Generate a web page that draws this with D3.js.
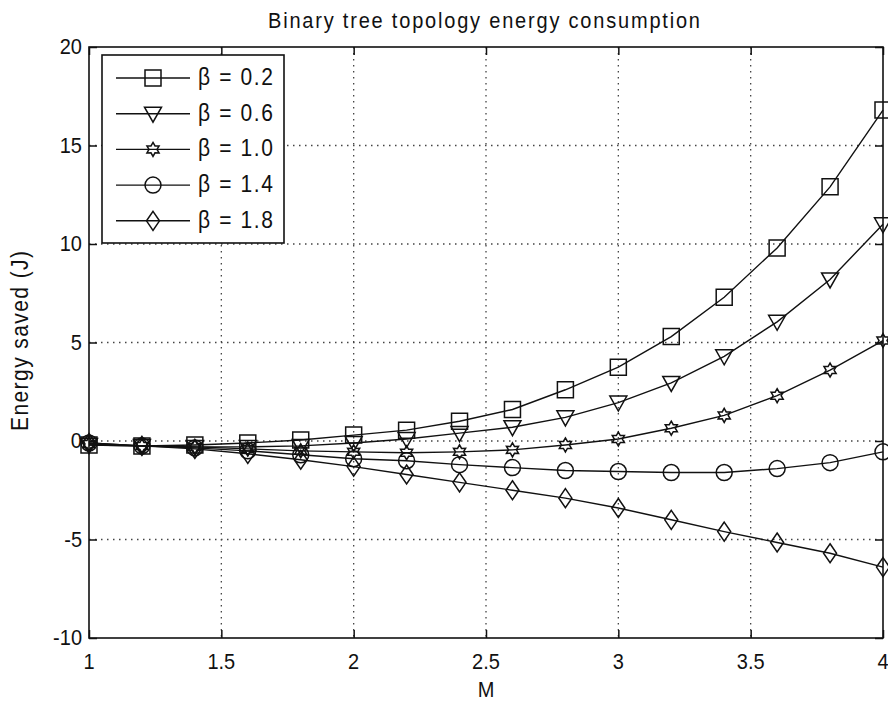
<!DOCTYPE html>
<html><head><meta charset="utf-8">
<script src="https://cdn.jsdelivr.net/npm/d3@7"></script>
<style>body{margin:0;background:#fff}svg{display:block}text{font-family:"Liberation Sans",Arial,sans-serif;fill:#111}</style>
</head><body><svg id="c" width="888" height="703"></svg>
<script>
const mValues = [1,1.2,1.4,1.6,1.8,2.0,2.2,2.4,2.6,2.8,3.0,3.2,3.4,3.6,3.8,4.0];
const beta02 = [-0.2,-0.25,-0.2,-0.1,0.05,0.3,0.55,1.0,1.6,2.6,3.75,5.3,7.3,9.8,12.9,16.8];
const beta06 = [-0.2,-0.25,-0.3,-0.3,-0.25,-0.1,0.1,0.4,0.7,1.2,1.95,2.95,4.3,6.05,8.2,11.0];
const beta10 = [-0.15,-0.25,-0.3,-0.4,-0.5,-0.55,-0.6,-0.55,-0.45,-0.2,0.1,0.65,1.3,2.3,3.6,5.1];
const beta14 = [-0.1,-0.25,-0.35,-0.5,-0.7,-0.9,-1.0,-1.2,-1.35,-1.5,-1.55,-1.6,-1.6,-1.4,-1.1,-0.55];
const beta18 = [-0.1,-0.25,-0.4,-0.65,-0.95,-1.3,-1.7,-2.1,-2.5,-2.9,-3.4,-4.0,-4.6,-5.15,-5.7,-6.4];
const seriesNames = ["β = 0.2","β = 0.6","β = 1.0","β = 1.4","β = 1.8"];
const seriesMarkers = ["square","triangleDown","hexagram","circle","diamond"];
const xTicks = [1,1.5,2,2.5,3,3.5,4];
const yTicks = [-10,-5,0,5,10,15,20];
const titleText = "Binary tree topology energy consumption";
const xLabel = "M";
const yLabel = "Energy saved (J)";

const series = [beta02,beta06,beta10,beta14,beta18].map((v,i)=>({name:seriesNames[i],marker:seriesMarkers[i],values:v}));

const svg = d3.select("#c");
const L=89,R=883,T=47,B=638;
const x = d3.scaleLinear().domain([1,4]).range([L,R]);
const y = d3.scaleLinear().domain([-10,20]).range([B,T]);
const SY = 1.1; // vertical stretch of glyphs

function txt(g, xx, yy, s, size, anchor, rot, len){
  const t = g.append("text").attr("font-size",size).attr("text-anchor",anchor||"middle").text(s);
  if(len) t.attr("textLength",len).attr("lengthAdjust","spacing");
  if(rot) t.attr("transform",`translate(${xx},${yy}) rotate(${rot}) scale(1,${SY})`);
  else t.attr("transform",`translate(${xx},${yy}) scale(1,${SY})`);
  return t;
}

function markerPath(type){
  switch(type){
    case "square": return "M-8,-8H8V8H-8Z";
    case "triangleDown": return "M-8.5,-6.5L8.5,-6.5L0,8.5Z";
    case "circle": {const p=d3.path();p.arc(0,0,8,0,2*Math.PI);p.closePath();return p.toString();}
    case "diamond": return "M0,-9.5L6.5,0L0,9.5L-6.5,0Z";
    case "hexagram": {
      const pts=[];const ro=7,ri=4;
      for(let k=0;k<12;k++){const a=-Math.PI/2+k*Math.PI/6;const r=k%2?ri:ro;pts.push([r*Math.cos(a),r*Math.sin(a)]);}
      return "M"+pts.map(p=>p[0].toFixed(2)+","+p[1].toFixed(2)).join("L")+"Z";
    }
  }
}

// grid
const grid = svg.append("g").attr("stroke","#444").attr("stroke-width",1.3).attr("stroke-dasharray","1.5,4.5");
xTicks.slice(1,-1).forEach(t=>grid.append("line").attr("x1",x(t)).attr("x2",x(t)).attr("y1",T).attr("y2",B));
yTicks.slice(1,-1).forEach(t=>grid.append("line").attr("y1",y(t)).attr("y2",y(t)).attr("x1",L).attr("x2",R));

// axes with inward ticks (all four sides)
const tk=8;
const axB = svg.append("g").attr("transform",`translate(0,${B})`).call(d3.axisBottom(x).tickValues(xTicks).tickSize(-tk).tickFormat(""));
const axT = svg.append("g").attr("transform",`translate(0,${T})`).call(d3.axisTop(x).tickValues(xTicks).tickSize(-tk).tickFormat(""));
const axL = svg.append("g").attr("transform",`translate(${L},0)`).call(d3.axisLeft(y).tickValues(yTicks).tickSize(-tk).tickFormat(""));
const axR = svg.append("g").attr("transform",`translate(${R},0)`).call(d3.axisRight(y).tickValues(yTicks).tickSize(-tk).tickFormat(""));
[axB,axT,axL,axR].forEach(a=>{a.selectAll(".domain").remove();a.selectAll("line").attr("stroke","#111").attr("stroke-width",1.5);});
svg.append("rect").attr("x",L).attr("y",T).attr("width",R-L).attr("height",B-T).attr("fill","none").attr("stroke","#111").attr("stroke-width",1.6);

// tick labels
const lab = svg.append("g");
xTicks.forEach(t=>txt(lab,x(t),669,String(t),20,"middle"));
yTicks.forEach(t=>txt(lab,82,y(t)+7,String(t),20,"end"));

// series
const line = d3.line().x((d,i)=>x(mValues[i])).y(d=>y(d));
series.forEach(s=>{
  const g = svg.append("g");
  g.append("path").attr("d",line(s.values)).attr("fill","none").attr("stroke","#111").attr("stroke-width",1.4);
  g.selectAll("path.m").data(s.values).join("path").attr("class","m")
    .attr("d",markerPath(s.marker)).attr("transform",(d,i)=>`translate(${x(mValues[i])},${y(d)})`)
    .attr("fill","none").attr("stroke","#111").attr("stroke-width",1.5);
});

// legend
const lg = svg.append("g");
lg.append("rect").attr("x",102).attr("y",55).attr("width",182).attr("height",188).attr("fill","#fff").attr("stroke","#111").attr("stroke-width",1.6);
series.forEach((s,i)=>{
  const yy = 78 + i*35.7;
  lg.append("line").attr("x1",116).attr("x2",190).attr("y1",yy).attr("y2",yy).attr("stroke","#111").attr("stroke-width",1.4);
  lg.append("path").attr("d",markerPath(s.marker)).attr("transform",`translate(153,${yy})`).attr("fill","none").attr("stroke","#111").attr("stroke-width",1.5);
  txt(lg,198,yy+7,s.name,21,"start",0,75);
});

// title & labels
txt(svg,484,28,titleText,20,"middle",0,432);
txt(svg,486,697,xLabel,20,"middle");
txt(svg,28,341,yLabel,21,"middle",-90,180);
</script></body></html>
